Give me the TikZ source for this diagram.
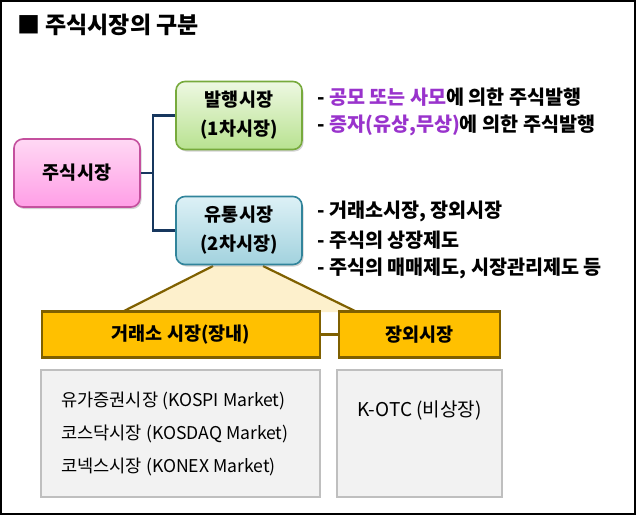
\documentclass[tikz,border=0pt]{standalone}
\usepackage{fontspec}
\setmainfont{Noto Sans CJK KR}
\usetikzlibrary{shadows}
\definecolor{pinktop}{HTML}{FFD8F4}
\definecolor{pinkbot}{HTML}{FF9EE6}
\definecolor{pinkline}{HTML}{C4509E}
\definecolor{greentop}{HTML}{EEF8E2}
\definecolor{greenbot}{HTML}{B8E290}
\definecolor{greenline}{HTML}{77AA3C}
\definecolor{tealtop}{HTML}{DDF1F6}
\definecolor{tealbot}{HTML}{A2D2DE}
\definecolor{tealline}{HTML}{31849B}
\definecolor{connblue}{HTML}{17375E}
\definecolor{gold}{HTML}{FFC000}
\definecolor{olive}{HTML}{7F6000}
\definecolor{cream}{HTML}{FDF0CC}
\definecolor{boxgray}{HTML}{F2F2F2}
\definecolor{linegray}{HTML}{BFBFBF}
\definecolor{accent}{HTML}{9933CC}
\tikzset{
  rbox/.style={rounded corners=9pt, line width=1.6pt, minimum width=126pt, minimum height=68pt,
    align=center, font=\bfseries\fontsize{18.5}{29}\selectfont, inner sep=0pt,
    drop shadow={opacity=0.35, shadow xshift=1.5pt, shadow yshift=-2pt}},
  ybox/.style={draw=olive, fill=gold, line width=2.2pt, minimum height=46pt,
    font=\bfseries\fontsize{18.5}{22}\selectfont},
  gbox/.style={draw=linegray, fill=boxgray, line width=2pt},
  conn/.style={draw=connblue, line width=2.4pt},
  oline/.style={draw=olive, line width=2.2pt},
  listtxt/.style={anchor=west, inner sep=0pt, font=\bfseries\fontsize{19.6}{22}\selectfont},
  grtxt/.style={anchor=west, inner sep=0pt, font=\fontsize{17.6}{20}\selectfont},
}
\begin{document}
\begin{tikzpicture}[x=1pt,y=-1pt]
\useasboundingbox (0,0) rectangle (636,515);
\draw[line width=2pt] (1,1) rectangle (635,514);

\node[anchor=west, inner sep=0pt, font=\bfseries\fontsize{23}{27}\selectfont] (title) at (17,25) {■ 주식시장의 구분};

% trapezoid behind
\coordinate (tl) at (213,266);
\coordinate (tr) at (263,266);
\coordinate (bl) at (122,312);
\coordinate (br) at (357,312);
\fill[cream] (tl) -- (bl) -- (br) -- (tr) -- cycle;
\draw[oline] (tl) -- (bl);
\draw[oline] (tr) -- (br);

% rounded boxes
\node[rbox, draw=pinkline, top color=pinktop, bottom color=pinkbot] (main) at (77,173) {주식시장};
\node[rbox, draw=greenline, top color=greentop, bottom color=greenbot] (b1) at (239,115.5) {발행시장\\(1차시장)};
\node[rbox, draw=tealline, top color=tealtop, bottom color=tealbot] (b2) at (239,230.5) {유통시장\\(2차시장)};

\coordinate (jx) at (153,173);
\draw[conn] (main.east) -- (jx);
\draw[conn] (b1.west) -| (jx) |- (b2.west);

% lists
\node[listtxt] (l1) at (317,97) {- \textcolor{accent}{공모 또는 사모}에 의한 주식발행};
\node[listtxt] (l2) at (317,125) {- \textcolor{accent}{증자(유상,무상)}에 의한 주식발행};
\node[listtxt] (l3) at (317,211) {- 거래소시장, 장외시장};
\node[listtxt] (l4) at (317,240) {- 주식의 상장제도};
\node[listtxt] (l5) at (317,268) {- 주식의 매매제도, 시장관리제도 등};

% yellow boxes
\node[ybox, minimum width=278pt] (y1) at (181,334.5) {거래소 시장(장내)};
\node[ybox, minimum width=161pt] (y2) at (419.5,334.5) {장외시장};
\draw[oline] (y1.east) -- (y2.west);

% gray boxes
\node[gbox, minimum width=279pt, minimum height=127pt] (g1) at (180.5,433.5) {};
\node[gbox, minimum width=165pt, minimum height=127pt] (g2) at (419.5,433.5) {};
\node[grtxt] (t1) at (61,401) {유가증권시장 (KOSPI Market)};
\node[grtxt] (t2) at (61,434) {코스닥시장 (KOSDAQ Market)};
\node[grtxt] (t3) at (61,467) {코넥스시장 (KONEX Market)};
\node[font=\fontsize{19}{22}\selectfont, inner sep=0pt] (t4) at (419.5,410) {K-OTC (비상장)};
\end{tikzpicture}
\end{document}
